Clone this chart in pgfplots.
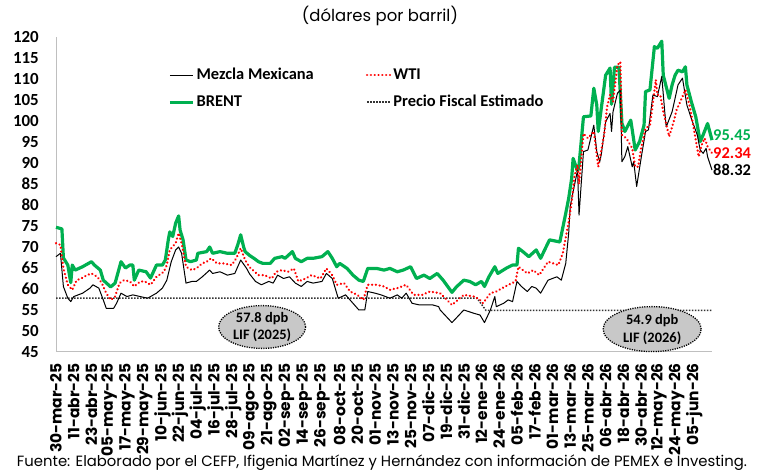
\documentclass[border=0pt]{standalone}
\usepackage{pgfplots}
\usepackage{pgfplotstable}
\pgfplotsset{compat=1.18}
\usepackage{fontspec}
\setmainfont{Carlito}
\newfontfamily\poppins{Poppins}
\usetikzlibrary{shapes.geometric}
\definecolor{brent}{HTML}{00B050}
\definecolor{wti}{HTML}{FF0000}
\definecolor{axgray}{HTML}{BFBFBF}
\definecolor{ellgray}{HTML}{C8C8C8}

\pgfplotstableread{
d v
0 74.7
4 74.3
5 67.4
8 65.7
10 61.5
11 65.7
13 64.5
18 65.3
24 66.5
26 65.7
30 64.5
32 62.1
37 60.5
40 61.4
44 66.5
47 65.0
50 65.7
52 65.7
53 62.1
56 64.5
61 64.1
64 62.6
68 65.7
72 65.7
74 66.9
76 71.7
77 73.6
79 72.5
81 75.7
83 77.4
84 74.0
86 71.7
88 66.9
91 66.5
95 66.9
96 68.5
102 68.9
104 70.0
106 68.5
111 68.9
116 68.5
121 68.5
123 70.5
125 72.9
127 70.0
128 68.9
131 68.0
134 67.3
137 66.5
140 66.1
145 66.1
148 67.3
153 67.7
155 67.3
160 68.9
162 67.3
166 66.5
170 67.3
174 67.3
180 67.7
184 68.9
187 67.3
190 65.3
192 66.1
197 64.9
201 63.3
205 62.1
208 61.8
211 64.9
217 64.9
222 64.5
226 64.9
231 64.1
235 64.5
240 65.3
244 62.5
249 63.3
253 62.5
258 63.7
262 62.1
268 59.2
271 60.5
276 62.1
280 61.8
284 61.0
288 61.8
290 60.6
293 62.9
297 65.3
299 63.7
305 65.0
309 65.7
312 65.7
313 69.7
316 68.9
320 67.7
325 69.3
328 67.3
334 71.7
341 71.2
345 78.0
347 81.6
349 86.3
350 91.1
353 88.1
354 89.5
357 101.0
362 101.2
364 107.8
366 103.8
367 97.5
372 110.9
375 112.6
376 104.0
378 112.8
381 112.8
383 99.5
385 97.5
389 100.2
390 97.9
392 93.1
395 95.1
398 99.0
399 107.0
402 107.4
405 117.7
407 117.3
410 119.0
411 110.9
415 105.4
417 108.6
419 110.9
421 112.1
424 111.7
426 112.9
427 108.6
430 104.6
433 101.0
436 95.1
438 96.7
441 99.4
444 95.45
}\brenttab

\pgfplotstableread{
d v
0 70.9
3 70.5
5 64.9
8 61.0
11 59.8
14 62.1
17 62.5
21 63.3
24 63.7
28 62.9
31 61.4
34 59.0
37 57.4
40 58.2
43 61.4
46 62.1
50 61.8
53 60.6
57 61.8
60 61.8
64 61.0
68 62.9
73 64.1
75 65.7
77 69.3
81 70.9
83 73.3
85 70.9
88 65.3
92 64.5
95 64.9
99 66.1
102 66.5
105 67.3
109 66.1
113 66.1
119 65.7
122 67.3
125 69.7
128 66.9
131 65.2
137 63.3
141 63.3
146 62.5
149 64.1
153 64.5
157 64.1
161 64.9
164 61.8
169 62.5
173 63.3
179 62.5
183 64.9
187 63.3
190 61.0
195 61.4
199 59.4
204 58.6
208 57.4
211 61.0
217 61.0
222 60.6
226 59.8
231 60.2
237 61.0
242 58.6
248 58.6
253 59.4
260 59.0
268 56.2
276 58.6
283 58.2
287 57.4
289 56.6
294 59.0
298 59.4
304 60.6
311 61.8
313 65.3
319 63.7
323 64.5
327 63.3
333 66.5
340 65.7
343 68.5
347 76.0
349 80.6
351 87.1
353 89.5
354 85.0
357 97.0
360 95.9
364 97.5
367 89.1
371 96.7
373 103.4
375 106.2
377 104.6
380 113.3
382 114.1
383 96.7
386 95.9
390 93.5
392 89.1
394 89.1
396 93.5
399 98.2
402 99.0
406 109.8
407 106.2
409 106.2
411 102.2
415 96.3
418 99.8
420 102.6
424 105.8
426 107.4
429 103.4
432 97.5
435 91.5
437 94.3
439 95.9
441 93.9
444 92.34
}\wtitab

\pgfplotstableread{
d v
0 67.7
3 68.5
5 60.6
8 57.8
10 57.0
12 58.2
15 58.6
18 59.0
23 60.2
25 61.0
29 60.2
32 57.4
34 55.4
39 55.4
41 56.6
44 59.0
48 58.2
52 58.6
57 58.2
62 57.8
68 59.0
72 60.2
75 62.1
78 66.5
81 69.3
83 70.0
85 68.5
88 61.4
92 61.8
95 61.8
99 62.9
104 64.5
106 63.7
111 64.1
116 63.3
121 63.7
125 66.9
129 64.9
131 63.6
135 61.8
139 61.0
144 61.8
147 61.4
150 63.3
154 62.5
158 62.9
162 61.4
166 60.6
170 61.8
174 61.4
180 61.8
183 63.7
187 62.5
191 57.8
196 58.6
200 57.0
205 55.0
209 55.0
211 59.4
216 59.0
220 58.6
226 57.8
231 58.6
234 57.8
237 59.0
241 56.6
246 56.2
251 56.2
255 56.2
259 55.8
260 55.0
268 52.0
276 55.0
283 54.2
287 53.8
290 52.0
294 55.0
297 58.2
298 55.8
303 56.6
306 57.4
309 57.0
312 61.8
315 60.6
319 59.4
322 60.6
325 60.2
328 59.0
333 62.1
339 62.9
342 62.1
345 66.1
347 73.3
348 79.6
350 83.2
353 88.3
354 77.6
357 92.7
360 93.1
364 99.0
366 92.7
368 90.3
369 91.9
372 99.8
375 101.8
376 97.5
377 102.2
380 106.6
382 107.4
383 90.3
385 91.5
387 93.9
390 89.1
391 90.3
393 84.4
396 91.1
399 97.5
401 97.9
404 106.2
407 105.8
410 110.6
412 102.2
413 98.6
417 102.2
419 105.4
421 108.6
424 110.2
427 103.8
430 100.6
434 96.7
436 93.1
438 92.3
440 93.5
441 91.5
444 88.32
}\mezclatab

\pgfplotstableread{
d v
0 57.8
285 57.8
291 54.9
444 54.9
}\fiscaltab

\begin{document}
\begin{tikzpicture}[x=1bp,y=1bp]
\path[use as bounding box] (0,0) rectangle (760,474);
\node at (380,458) {\resizebox{156bp}{!}{\poppins (dólares por barril)}};
\node at (382,11) {\resizebox{730bp}{!}{\poppins Fuente: Elaborado por el CEFP, Ifigenia Martínez y Hernández con información de PEMEX e Investing.}};
\begin{axis}[
  at={(56bp,122bp)}, anchor=south west,
  scale only axis, width=656bp, height=315bp,
  xmin=0, xmax=444, ymin=45, ymax=120,
  clip=false,
  axis x line*=bottom, axis y line*=left,
  axis line style={axgray, line width=1bp, -},
  major tick length=0pt,
  ytick={45,50,...,120},
  xtick={0,12,...,432},
  xticklabels={30-mar-25,11-abr-25,23-abr-25,05-may-25,17-may-25,29-may-25,10-jun-25,22-jun-25,04-jul-25,16-jul-25,28-jul-25,09-ago-25,21-ago-25,02-sep-25,14-sep-25,26-sep-25,08-oct-25,20-oct-25,01-nov-25,13-nov-25,25-nov-25,07-dic-25,19-dic-25,31-dic-25,12-ene-26,24-ene-26,05-feb-26,17-feb-26,01-mar-26,13-mar-26,25-mar-26,06-abr-26,18-abr-26,30-abr-26,12-may-26,24-may-26,05-jun-26},
  /pgf/number format/assume math mode=true,
  yticklabel style={font=\bfseries\fontsize{17}{17}\selectfont, anchor=east, inner sep=0pt, xshift=-17bp},
  xticklabel style={font=\poppins\bfseries\fontsize{15.5}{15.5}\selectfont, rotate=90, anchor=east, inner sep=0pt},
  xticklabel shift=11bp,
  legend columns=2,
  legend cell align=left,
  legend image code/.code={\draw[#1] (0bp,0bp) -- (23bp,0bp);},
  legend style={at={(0.171,0.905)}, anchor=north west, draw=none, fill=none, inner sep=0pt,
    font=\bfseries\fontsize{16.5}{16.5}\selectfont,
    nodes={inner xsep=2bp, inner ysep=0pt, text height=12bp, text depth=4bp},
    row sep=11bp,
    /tikz/every even column/.append style={column sep=50bp}},
]
\addlegendimage{black, line width=1.1bp}
\addlegendentry{Mezcla Mexicana}
\addlegendimage{wti, line width=2.5bp, line cap=round, dash pattern=on 0.01bp off 3.8bp}
\addlegendentry{WTI}
\addlegendimage{brent, line width=3.2bp}
\addlegendentry{BRENT}
\addlegendimage{black!80, line width=1.5bp, dash pattern=on 1.5bp off 1.5bp}
\addlegendentry{Precio Fiscal Estimado}

\addplot[forget plot, black!80, line width=1.5bp, dash pattern=on 1.5bp off 1.5bp] table[x=d,y=v] {\fiscaltab};
\addplot[forget plot, brent, line width=3.2bp, line join=round] table[x=d,y=v] {\brenttab};
\addplot[forget plot, black, line width=1bp, line join=round] table[x=d,y=v] {\mezclatab};
\addplot[forget plot, wti, line width=2.5bp, line cap=round, dash pattern=on 0.01bp off 3.8bp] table[x=d,y=v] {\wtitab};

\node[ellipse, fill=ellgray, draw=black, line width=1.3bp, dash pattern=on 1.2bp off 1.2bp,
  minimum width=87bp, minimum height=37bp, inner sep=0pt, align=center,
  font=\bfseries\fontsize{14.5}{18}\selectfont] at (axis cs:139.5,50.95) {57.8 dpb\\LIF (2025)};
\node[ellipse, fill=ellgray, draw=black, line width=1.3bp, dash pattern=on 1.2bp off 1.2bp,
  minimum width=98bp, minimum height=45bp, inner sep=0pt, align=center,
  font=\bfseries\fontsize{14.5}{18}\selectfont] at (axis cs:403.5,50.45) {54.9 dpb\\LIF (2026)};

\node[anchor=west, inner sep=1bp, text=brent, font=\bfseries\fontsize{16.5}{16.5}\selectfont] at (axis cs:444,96.7) {95.45};
\node[anchor=west, inner sep=1bp, text=wti, font=\bfseries\fontsize{16.5}{16.5}\selectfont] at (axis cs:444,92.4) {92.34};
\node[anchor=west, inner sep=1bp, text=black, font=\bfseries\fontsize{16.5}{16.5}\selectfont] at (axis cs:444,88.3) {88.32};
\end{axis}
\end{tikzpicture}
\end{document}
